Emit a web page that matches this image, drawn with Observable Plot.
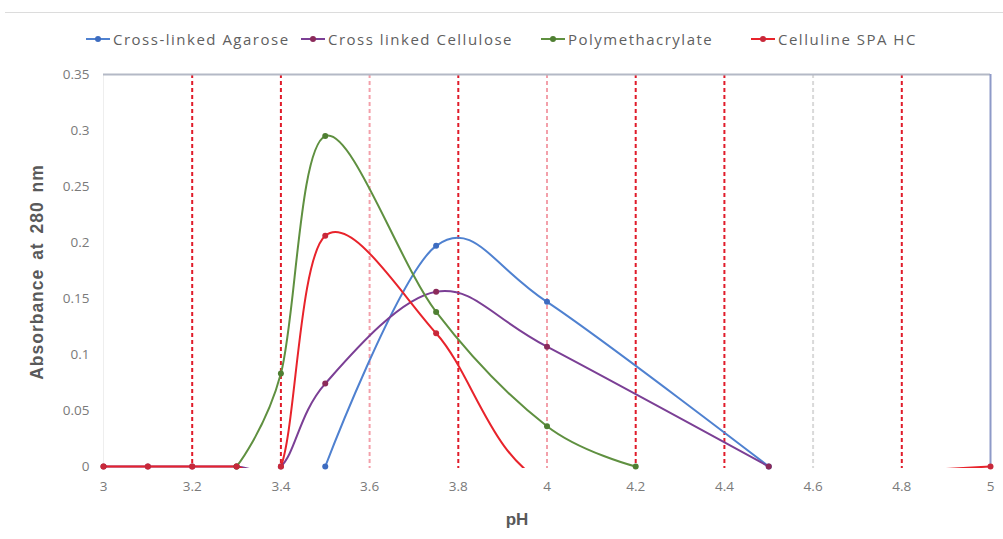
<!DOCTYPE html>
<html>
<head>
<meta charset="utf-8">
<script src="https://cdn.jsdelivr.net/npm/d3@7"></script>
<script src="https://cdn.jsdelivr.net/npm/@observablehq/plot@0.6"></script>
<style>
  html, body { margin: 0; padding: 0; background: #fff; width: 1003px; height: 539px; overflow: hidden; position: relative; }
  #topline { position: absolute; left: 5px; right: 0; top: 12px; border-top: 1px solid #dcdcdc; }
  #legend { position: absolute; top: 29px; left: 0; width: 1003px; height: 22px;
            font-family: "Open Sans", Lato, sans-serif; font-size: 15px; letter-spacing: 1.5px; color: #5f5f5f; }
  #legend .item { position: absolute; top: 0; display: flex; align-items: center; gap: 2px; white-space: nowrap; }
  #chart { position: absolute; top: 55px; left: 0; }
  .axtitle { position: absolute; font-family: "Liberation Sans", Arial, sans-serif; font-weight: bold; color: #595959; }
  #ytitle { left: 37px; top: 272px; font-size: 17.5px; letter-spacing: 1px; word-spacing: 3px; transform: translate(-50%, -50%) rotate(-90deg); white-space: nowrap; }
  #xtitle { left: 517px; top: 520px; font-size: 17px; transform: translate(-50%, -50%); }
</style>
</head>
<body>
<div id="topline"></div>
<div id="legend"></div>
<div id="chart"></div>
<div id="ytitle" class="axtitle">Absorbance at 280 nm</div>
<div id="xtitle" class="axtitle">pH</div>
<script>
// ---- data ----
const seriesNames = ["Cross-linked Agarose", "Cross linked Cellulose", "Polymethacrylate", "Celluline SPA HC"];
const seriesColors = ["#4f81d0", "#7b3f95", "#5f9040", "#e8232b"];
const markerColors = ["#3d6cc0", "#8b2a5a", "#4f7f32", "#c8283a"];

const agarosePH  = [3.5, 3.75, 4, 4.5];
const agaroseAbs = [0, 0.197, 0.147, 0];

const cellulosePH  = [3, 3.1, 3.2, 3.3, 3.4, 3.5, 3.75, 4, 4.5];
const celluloseAbs = [0, 0, 0, 0, 0, 0.074, 0.156, 0.107, 0];

const polyPH  = [3.3, 3.4, 3.5, 3.75, 4, 4.2];
const polyAbs = [0, 0.083, 0.295, 0.138, 0.036, 0];

const spaPH  = [3, 3.1, 3.2, 3.3, 3.4, 3.5, 3.75, 4, 4.5, 5];
const spaAbs = [0, 0, 0, 0, 0, 0.206, 0.119, -0.015, -0.01, 0];

const xTicks = [3, 3.2, 3.4, 3.6, 3.8, 4, 4.2, 4.4, 4.6, 4.8, 5];
const yTicks = [0, 0.05, 0.1, 0.15, 0.2, 0.25, 0.3, 0.35];

const strongDashes = [3.2, 3.4, 3.8, 4.2, 4.4, 4.8];
const pinkDashes = [3.6, 4];
const greyDashes = [4.6];

// ---- build long table ----
const pairs = [[agarosePH, agaroseAbs], [cellulosePH, celluloseAbs], [polyPH, polyAbs], [spaPH, spaAbs]];
const data = [];
pairs.forEach(([xs, ys], i) => xs.forEach((x, j) => data.push({series: seriesNames[i], ph: x, abs: ys[j]})));

// ---- legend ----
const legendLeft = [85, 300, 540, 750];
const legend = document.getElementById("legend");
seriesNames.forEach((name, i) => {
  const item = document.createElement("div");
  item.className = "item";
  item.style.left = legendLeft[i] + "px";
  item.innerHTML = `<svg width="26" height="12"><line x1="1" y1="6" x2="25" y2="6" stroke="${seriesColors[i]}" stroke-width="2"/><circle cx="13" cy="6" r="3" fill="${markerColors[i]}"/></svg><span>${name}</span>`;
  legend.appendChild(item);
});

const fmt = d => String(+d.toFixed(2));

const chart = Plot.plot({
  width: 1003,
  height: 484,
  marginLeft: 103,
  marginRight: 13,
  marginTop: 19,
  marginBottom: 71,
  insetBottom: 2,
  style: {fontFamily: "'Open Sans', Lato, sans-serif", fontSize: "13.5px", color: "#7a7a7a", background: "transparent"},
  x: {domain: [3, 5], ticks: xTicks, tickFormat: fmt, tickSize: 0, tickPadding: 13, label: null},
  y: {domain: [0, 0.35], ticks: yTicks, tickFormat: fmt, tickSize: 0, tickPadding: 14, label: null},
  color: {domain: seriesNames, range: seriesColors},
  marks: [
    Plot.ruleX([3], {stroke: "#eeeeee", strokeWidth: 1}),
    Plot.ruleX(greyDashes, {stroke: "#d9d9d9", strokeWidth: 2, strokeDasharray: "4,3"}),
    Plot.ruleX(pinkDashes, {stroke: "#f3a0aa", strokeWidth: 2, strokeDasharray: "4,3"}),
    Plot.ruleX(strongDashes, {stroke: "#e01b2a", strokeWidth: 2, strokeDasharray: "4,3"}),
    Plot.ruleY([0.35], {stroke: "#b4b9c6", strokeWidth: 2}),
    Plot.ruleX([5], {stroke: "#8e9ac8", strokeWidth: 2}),
    Plot.line(data, {x: "ph", y: "abs", z: "series", stroke: "series", strokeWidth: 2, curve: "cardinal", clip: true}),
    Plot.dot(data, {filter: d => d.abs >= 0, x: "ph", y: "abs", r: 3, fill: d => markerColors[seriesNames.indexOf(d.series)], stroke: "none"})
  ]
});
document.getElementById("chart").appendChild(chart);
</script>
</body>
</html>
